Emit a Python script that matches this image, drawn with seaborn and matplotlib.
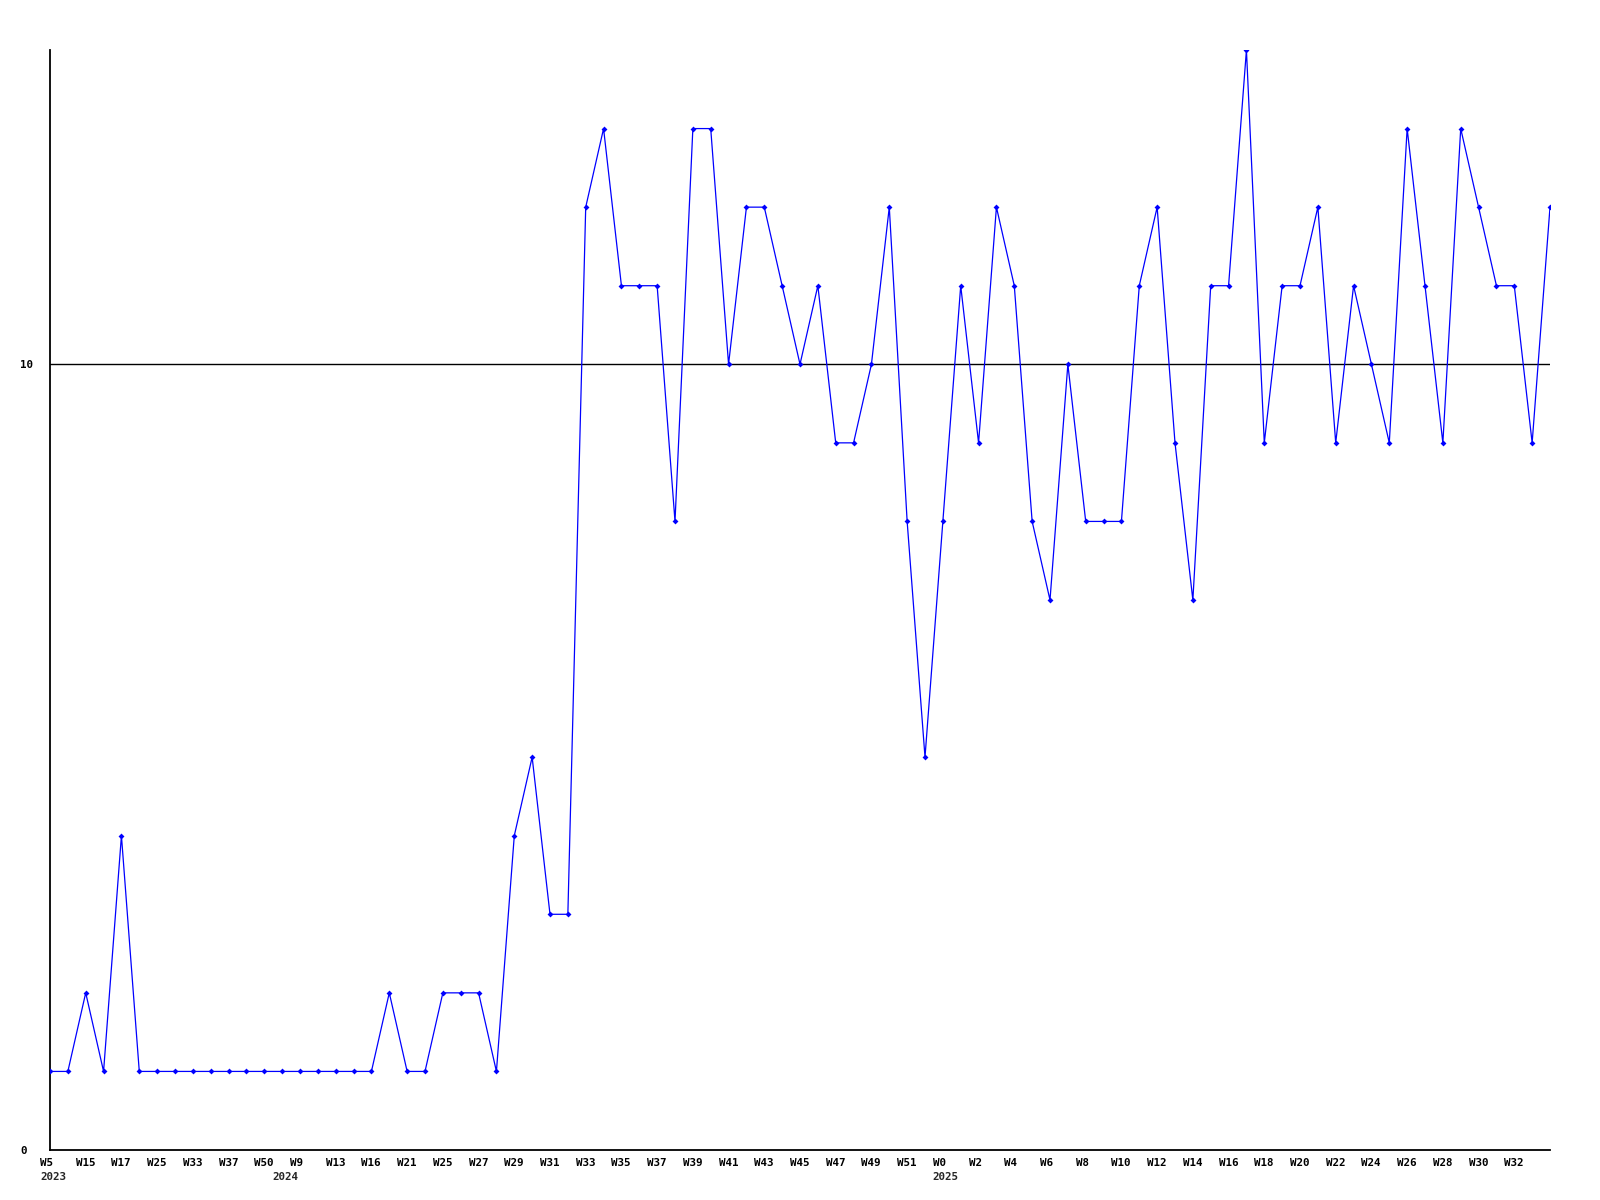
import matplotlib
matplotlib.use("Agg")
import matplotlib.pyplot as plt
import matplotlib.transforms as mtransforms
import seaborn as sns
import pandas as pd

values = [1, 1, 2, 1, 4, 1, 1, 1, 1, 1, 1, 1, 1, 1, 1, 1, 1, 1, 1, 2,
          1, 1, 2, 2, 2, 1, 4, 5, 3, 3, 12, 13, 11, 11, 11, 8, 13, 13, 10, 12,
          12, 11, 10, 11, 9, 9, 10, 12, 8, 5, 8, 11, 9, 12, 11, 8, 7, 10, 8, 8,
          8, 11, 12, 9, 7, 11, 11, 14, 9, 11, 11, 12, 9, 11, 10, 9, 13, 11, 9, 13,
          12, 11, 11, 9, 12]

week_labels = ["W5", "W15", "W17", "W25", "W33", "W37", "W50", "W9", "W13", "W16",
               "W21", "W25", "W27", "W29", "W31", "W33", "W35", "W37", "W39", "W41",
               "W43", "W45", "W47", "W49", "W51", "W0", "W2", "W4", "W6", "W8",
               "W10", "W12", "W14", "W16", "W18", "W20", "W22", "W24", "W26", "W28",
               "W30", "W32"]
year_positions = [0, 13, 50]
year_labels = ["2023", "2024", "2025"]
y_ticks = [0, 10]

df = pd.DataFrame({"idx": range(len(values)), "value": values})

fig = plt.figure(figsize=(16, 12), dpi=100)
ax = fig.add_axes([50 / 1600, 1 - 1150 / 1200, 1500 / 1600, 1100 / 1200])
sns.set_style("white")

ax.axhline(10, color="black", linewidth=1, zorder=1)
sns.lineplot(data=df, x="idx", y="value", ax=ax, color="#0000ff", linewidth=0.9,
             marker="D", markersize=3, markeredgewidth=0, zorder=3)

ax.set_xlim(0, len(values) - 1)
ax.set_ylim(0, 14)
for s in ["top", "right"]:
    ax.spines[s].set_visible(False)
for s in ["left", "bottom"]:
    ax.spines[s].set_color("black")
    ax.spines[s].set_linewidth(1.3)

font = dict(family="DejaVu Sans Mono", weight="bold", size=7.8)

# x tick labels (weeks)
pos = [2 * i for i in range(len(week_labels))]
ax.set_xticks(pos)
ax.set_xticklabels(week_labels, ha="left", va="top", **font)
ax.tick_params(axis="x", length=0, pad=6)
offset = mtransforms.ScaledTranslation(-10 / 100, 0, fig.dpi_scale_trans)
for lab in ax.get_xticklabels():
    lab.set_transform(lab.get_transform() + offset)

# year labels on a second row
year_tr = ax.get_xaxis_transform() + mtransforms.ScaledTranslation(-10 / 100, -22 / 100, fig.dpi_scale_trans)
for p, yl in zip(year_positions, year_labels):
    ax.text(p, 0, yl, transform=year_tr, ha="left", va="top", **font)

ax.set_yticks(y_ticks)
ax.set_yticklabels([str(v) for v in y_ticks], ha="left", **font)
ax.tick_params(axis="y", length=0, pad=21.6)

ax.set_xlabel("")
ax.set_ylabel("")
fig.savefig("out.png", dpi=100, facecolor="white")
